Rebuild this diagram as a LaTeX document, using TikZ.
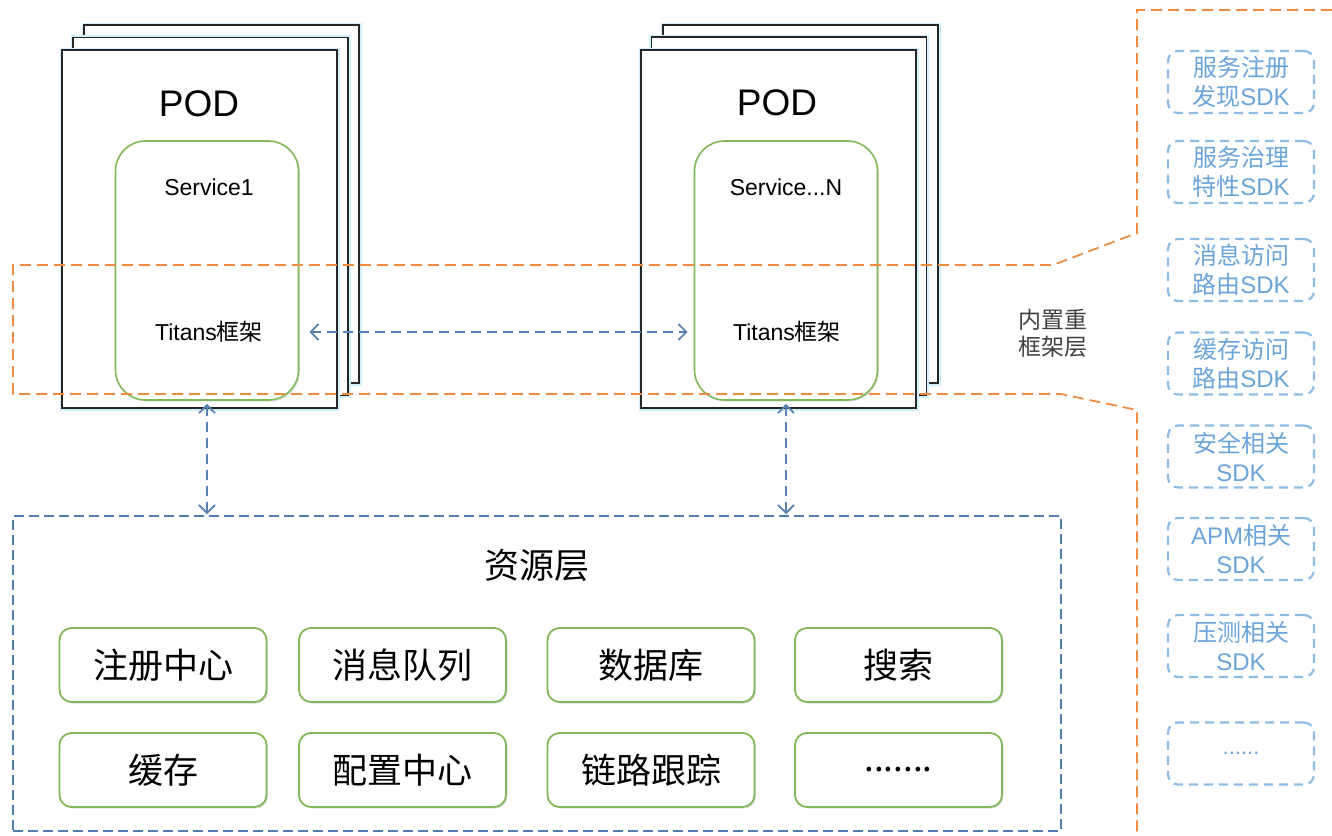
\documentclass[tikz,border=0pt]{standalone}
\usepackage{fontspec}
\setmainfont{Liberation Sans}
\newfontfamily\cjk{Noto Sans CJK SC}
\usetikzlibrary{arrows.meta,shadows}

\definecolor{layerorange}{HTML}{F08C42}
\definecolor{linkblue}{HTML}{5A83B2}
\definecolor{resblue}{HTML}{4F7DB3}
\definecolor{svcgreen}{HTML}{80BA58}
\definecolor{sdkblue}{HTML}{8DBCE6}
\definecolor{sdktext}{HTML}{6AA4DB}

\newcommand{\zh}[1]{{\cjk #1}}

\begin{document}
\begin{tikzpicture}[x=1pt, y=-1pt,
	podbox/.style={draw=black!85, fill=white, line width=1.6pt, preaction={draw=cyan!18, line width=5pt},
		minimum width=275pt, minimum height=358pt, inner sep=0pt},
	svcbox/.style={draw=svcgreen, fill=white, line width=1.6pt, rounded corners=30pt,
		minimum width=183pt, minimum height=259pt, inner sep=0pt,
		drop shadow={shadow xshift=1.5pt, shadow yshift=-1.5pt, opacity=.25}},
	itembox/.style={draw=svcgreen, fill=white, line width=1.8pt, rounded corners=12pt,
		minimum width=207pt, minimum height=74pt, inner sep=0pt, font=\cjk\fontsize{35}{40}\selectfont,
		drop shadow={shadow xshift=1.5pt, shadow yshift=-1.5pt, opacity=.25}},
	sdkbox/.style={draw=sdkblue, dash pattern=on 9pt off 6pt, line width=2.2pt, rounded corners=10pt,
		minimum width=146pt, minimum height=62pt, inner sep=0pt, align=center, text=sdktext,
		font=\fontsize{24}{29}\selectfont},
	link/.style={draw=linkblue, line width=1.8pt, dash pattern=on 10pt off 6pt,
		{Straight Barb[length=8pt,width=16pt]}-{Straight Barb[length=8pt,width=16pt]}},
	svclabel/.style={font=\fontsize{23}{27}\selectfont},
	podlabel/.style={font=\fontsize{37}{44}\selectfont}
	]
	
	\useasboundingbox (0,0) rectangle (1332,835);
	
	% POD stacks
	\node[podbox] (podA3) at (221.5,204) {};
	\node[podbox] (podA2) at (210.5,216.5) {};
	\node[podbox] (podA1) at (199.5,229) {};
	\node[podbox] (podB3) at (800.5,204) {};
	\node[podbox] (podB2) at (789,216) {};
	\node[podbox] (podB1) at (778.5,229) {};
	
	\node[podlabel] (podtA) at (199,104) {POD};
	\node[podlabel] (podtB) at (777,103) {POD};
	
	\node[svcbox] (svcA) at (207,270.5) {};
	\node[svcbox] (svcB) at (786,270.5) {};
	
	\node[svclabel] (srvA) at (209,187) {Service1};
	\node[svclabel] (srvB) at (786,187) {Service...N};
	\node[svclabel] (titA) at (209,332) {Titans\zh{框架}};
	\node[svclabel] (titB) at (787,332) {Titans\zh{框架}};
	
	% built-in framework layer
	\draw[layerorange, line width=1.8pt, dash pattern=on 11pt off 6pt]
		(1332,10) -- (1137,10) -- (1137,233) -- (1053,265) -- (13,265) -- (13,394)
		-- (1061,394) -- (1137,410) -- (1137,835);
	\node[align=center, text=black!75, font=\cjk\fontsize{23}{27}\selectfont] (layer) at (1053,333) {内置重\\框架层};
	
	% resource layer
	\node[draw=resblue, line width=1.5pt, dash pattern=on 10pt off 5pt, minimum width=1048pt,
		minimum height=315pt, inner sep=0pt] (res) at (537,673.5) {};
	\node[font=\cjk\fontsize{35}{40}\selectfont] (restitle) at (537,565) {资源层};
	
	\node[itembox] (reg)   at (163,665)   {注册中心};
	\node[itembox] (mq)    at (402.5,665) {消息队列};
	\node[itembox] (db)    at (651,665)   {数据库};
	\node[itembox] (srch)  at (898.5,665) {搜索};
	\node[itembox] (cache) at (163,770)   {缓存};
	\node[itembox] (conf)  at (402.5,770) {配置中心};
	\node[itembox] (trace) at (651,770)   {链路跟踪};
	\node[itembox] (more)  at (898.5,770) {.......};
	
	% SDK list
	\node[sdkbox] (sdk1) at (1241,82)    {\zh{服务注册}\\\zh{发现}SDK};
	\node[sdkbox] (sdk2) at (1241,172)   {\zh{服务治理}\\\zh{特性}SDK};
	\node[sdkbox] (sdk3) at (1241,270)   {\zh{消息访问}\\\zh{路由}SDK};
	\node[sdkbox] (sdk4) at (1241,363.5) {\zh{缓存访问}\\\zh{路由}SDK};
	\node[sdkbox] (sdk5) at (1241,456.5) {\zh{安全相关}\\SDK};
	\node[sdkbox] (sdk6) at (1241,549)   {APM\zh{相关}\\SDK};
	\node[sdkbox] (sdk7) at (1241,646)   {\zh{压测相关}\\SDK};
	\node[sdkbox, font=\fontsize{22}{26}\selectfont] (sdk8) at (1241,753.5) {......};
	
	% links
	\coordinate (ta) at (svcA.east |- titA);
	\coordinate (tb) at (svcB.west |- titB);
	\draw[link, shorten <=10pt, shorten >=6pt] (ta) -- (tb);
	\draw[link, shorten <=3pt, shorten >=1pt] (svcA.south) -- (svcA.south |- res.north);
	\draw[link, shorten <=3pt, shorten >=1pt] (svcB.south) -- (svcB.south |- res.north);
	
\end{tikzpicture}
\end{document}
